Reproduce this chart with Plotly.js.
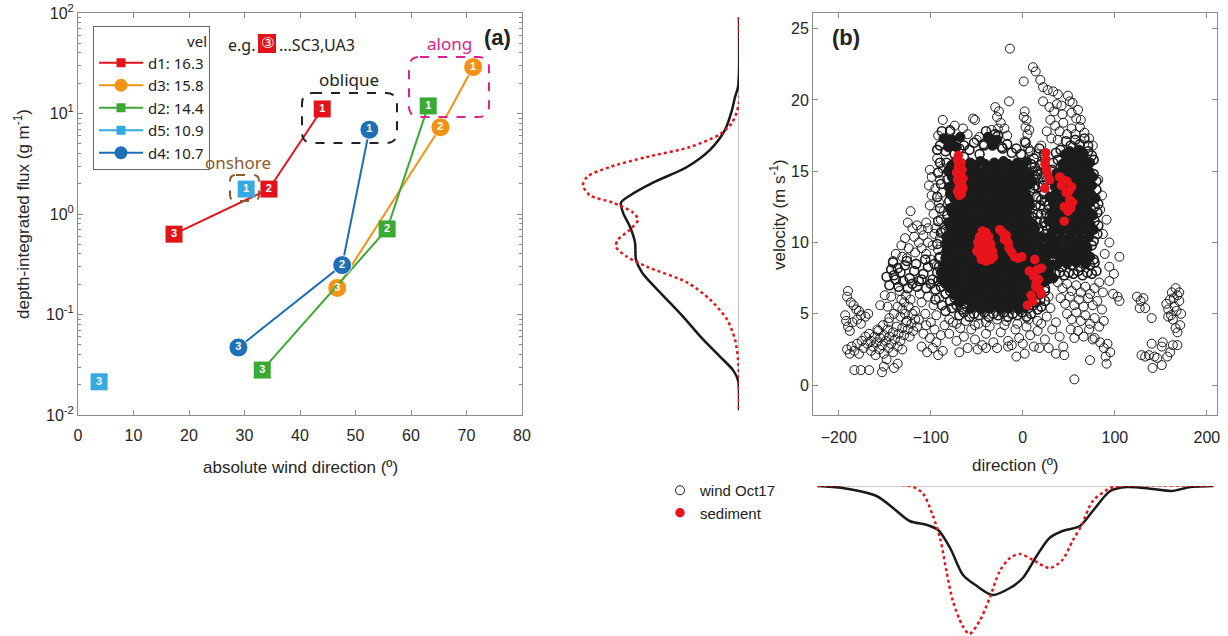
<!DOCTYPE html>
<html><head><meta charset="utf-8">
<script src="https://cdn.plot.ly/plotly-3.0.1.min.js"></script>
<style>html,body{margin:0;padding:0;background:#fff;}#chart{width:1228px;height:636px;}</style>
</head><body><div id="chart"></div>
<script>
// ---------- Panel (a) data ----------
const pointLabels = ['1','2','3'];
const dirD1 = [44.0, 34.4, 17.3];  const fluxD1 = [11.1, 1.77, 0.63];
const dirD3 = [71.2, 65.3, 46.7];  const fluxD3 = [29, 7.3, 0.184];
const dirD2 = [63.1, 55.7, 33.2];  const fluxD2 = [11.9, 0.71, 0.028];
const dirD5 = [30.3, null, 3.8];   const fluxD5 = [1.77, null, 0.0214];
const dirD4 = [52.5, 47.6, 28.9];  const fluxD4 = [6.9, 0.31, 0.047];
const legendNames = ['d1: 16.3','d3: 15.8','d2: 14.4','d5: 10.9','d4: 10.7'];
const fluxTickVals = [0.01,0.1,1,10,100];
const fluxTickText = ['10<sup>-2</sup>','10<sup>-1</sup>','10<sup>0</sup>','10<sup>1</sup>','10<sup>2</sup>'];
const fluxMinorVals = [0.02,0.03,0.04,0.05,0.06,0.07,0.08,0.09,0.2,0.3,0.4,0.5,0.6,0.7,0.8,0.9,2,3,4,5,6,7,8,9,20,30,40,50,60,70,80,90];

// ---------- Panel (b) data: [direction, velocity] ----------
// densest part of the wind cloud (overlapping circles read as solid black)
const windCore = [
[-78,15.4],[-73,15.7],[-67,15.5],[-62,15.3],[-57,15.6],[-52,15.4],[-46,15.7],[-41,15.5],[-36,15.3],[-31,15.6],[-26,15.4],[-21,15.7],[-16,15.5],[-11,15.3],[-6,15.6],[-1,15.4],[4,15.7],
[-81,15.0],[-76,14.8],[-71,15.1],[-65,14.9],[-60,15.1],[-55,14.8],[-49,15.0],[-44,14.9],[-39,15.1],[-34,14.8],[-29,15.0],[-24,14.9],[-19,15.1],[-14,14.8],[-9,15.0],[-4,14.9],[1,15.1],[6,14.8],
[-77,14.6],[-72,14.3],[-66,14.5],[-61,14.4],[-56,14.6],[-51,14.3],[-45,14.5],[-40,14.4],[-35,14.6],[-30,14.3],[-25,14.5],[-20,14.4],[-15,14.6],[-10,14.3],[-5,14.5],[0,14.4],[5,14.6],[10,14.3],
[-80,13.9],[-75,14.1],[-70,13.8],[-64,14.0],[-59,13.9],[-54,14.1],[-48,13.8],[-43,14.0],[-38,13.9],[-33,14.1],[-28,13.8],[-23,14.0],[-18,13.9],[-13,14.1],[-8,13.8],[-3,14.0],[2,13.9],[7,14.1],
[-79,13.4],[-74,13.6],[-69,13.3],[-63,13.5],[-58,13.4],[-52,13.6],[-47,13.3],[-42,13.5],[-37,13.4],[-32,13.6],[-27,13.3],[-22,13.5],[-17,13.4],[-12,13.6],[-7,13.3],[-2,13.5],[3,13.4],
[-75,13.1],[-70,12.8],[-65,13.0],[-60,12.9],[-55,13.1],[-49,12.8],[-44,13.0],[-39,12.9],[-34,13.1],[-29,12.8],[-24,13.0],[-19,12.9],[-14,13.1],[-9,12.8],[-4,13.0],[1,12.9],[6,13.1],
[-79,12.4],[-74,12.6],[-68,12.3],[-63,12.5],[-58,12.4],[-53,12.6],[-47,12.3],[-42,12.5],[-37,12.4],[-32,12.6],[-27,12.3],[-22,12.5],[-17,12.4],[-12,12.6],[-7,12.3],[-2,12.5],[3,12.4],[8,12.6],
[-77,12.1],[-72,11.8],[-66,12.0],[-61,11.9],[-56,12.1],[-50,11.8],[-45,12.0],[-40,11.9],[-35,12.1],[-30,11.8],[-25,12.0],[-20,11.9],[-15,12.1],[-10,11.8],[-5,12.0],[0,11.9],[5,12.1],
[-81,11.4],[-76,11.6],[-71,11.3],[-65,11.5],[-60,11.4],[-54,11.6],[-49,11.3],[-44,11.5],[-39,11.4],[-34,11.6],[-29,11.3],[-24,11.5],[-19,11.4],[-14,11.6],[-9,11.3],[-4,11.5],[1,11.4],[6,11.6],[11,11.3],
[-79,11.1],[-74,10.8],[-68,11.0],[-63,10.9],[-58,11.1],[-52,10.8],[-47,11.0],[-42,10.9],[-37,11.1],[-32,10.8],[-27,11.0],[-22,10.9],[-17,11.1],[-12,10.8],[-7,11.0],[-2,10.9],[3,11.1],[8,10.8],[13,11.0],
[-83,10.4],[-78,10.6],[-73,10.3],[-67,10.5],[-62,10.4],[-57,10.6],[-51,10.3],[-46,10.5],[-41,10.4],[-36,10.6],[-31,10.3],[-26,10.5],[-21,10.4],[-16,10.6],[-11,10.3],[-6,10.5],[-1,10.4],[4,10.6],[9,10.3],[14,10.5],[19,10.4],
[-84,9.9],[-79,10.1],[-74,9.8],[-69,10.0],[-64,9.9],[-58,10.1],[-53,9.8],[-48,10.0],[-43,9.9],[-38,10.1],[-33,9.8],[-28,10.0],[-23,9.9],[-18,10.1],[-13,9.8],[-8,10.0],[-3,9.9],[2,10.1],[7,9.8],[12,10.0],[17,9.9],
[-83,9.4],[-78,9.6],[-73,9.3],[-67,9.5],[-62,9.4],[-57,9.6],[-51,9.3],[-46,9.5],[-41,9.4],[-36,9.6],[-31,9.3],[-26,9.5],[-21,9.4],[-16,9.6],[-11,9.3],[-6,9.5],[-1,9.4],[4,9.6],[9,9.3],[14,9.5],[19,9.4],
[-84,8.9],[-79,9.1],[-74,8.8],[-69,9.0],[-63,8.9],[-58,9.1],[-53,8.8],[-48,9.0],[-42,8.9],[-37,9.1],[-32,8.8],[-27,9.0],[-22,8.9],[-17,9.1],[-12,8.8],[-7,9.0],[-2,8.9],[3,9.1],[8,8.8],[13,9.0],[18,8.9],[23,9.1],
[-86,8.4],[-81,8.6],[-76,8.3],[-71,8.5],[-66,8.4],[-60,8.6],[-55,8.3],[-50,8.5],[-45,8.4],[-40,8.6],[-34,8.3],[-29,8.5],[-24,8.4],[-19,8.6],[-14,8.3],[-9,8.5],[-4,8.4],[1,8.6],[6,8.3],[11,8.5],[16,8.4],[21,8.6],
[-89,7.9],[-84,8.1],[-79,7.8],[-74,8.0],[-69,7.9],[-63,8.1],[-58,7.8],[-53,8.0],[-48,7.9],[-43,8.1],[-37,7.8],[-32,8.0],[-27,7.9],[-22,8.1],[-17,7.8],[-12,8.0],[-7,7.9],[-2,8.1],[3,7.8],[8,8.0],[13,7.9],[18,8.1],[23,7.8],
[-88,7.4],[-83,7.6],[-78,7.3],[-72,7.5],[-67,7.4],[-62,7.6],[-56,7.3],[-51,7.5],[-46,7.4],[-41,7.6],[-35,7.3],[-30,7.5],[-25,7.4],[-20,7.6],[-15,7.3],[-10,7.5],[-5,7.4],[0,7.6],[5,7.3],[10,7.5],[15,7.4],[20,7.6],[25,7.3],
[-84,7.1],[-79,6.8],[-73,7.0],[-68,6.9],[-63,7.1],[-57,6.8],[-52,7.0],[-47,6.9],[-42,7.1],[-36,6.8],[-31,7.0],[-26,6.9],[-21,7.1],[-16,6.8],[-11,7.0],[-6,6.9],[-1,7.1],[4,6.8],[9,7.0],[14,6.9],[19,7.1],
[-74,6.3],[-68,6.5],[-63,6.4],[-58,6.6],[-52,6.3],[-47,6.5],[-42,6.4],[-37,6.6],[-31,6.3],[-26,6.5],[-21,6.4],[-16,6.6],[-11,6.3],[-6,6.5],[-1,6.4],[4,6.6],[9,6.3],[14,6.5],
[-69,5.8],[-63,6.0],[-58,5.9],[-53,6.1],[-47,5.8],[-42,6.0],[-37,5.9],[-32,6.1],[-26,5.8],[-21,6.0],[-16,5.9],[-11,6.1],[-6,5.8],[-1,6.0],[4,5.9],[9,6.1],
[-56,5.4],[-50,5.6],[-45,5.3],[-40,5.5],[-35,5.4],[-29,5.6],[-24,5.3],[-19,5.5],[-14,5.4],[-9,5.6],[-4,5.3],[1,5.5],
[-86,17.3],[-77,17.2],[-68,17.4],[-81,16.7],[-72,16.7],[-38,17.4],[-28,17.2],[-33,16.8],
[26,9.6],[29,9.2],[25,8.7],[31,8.4],[28,7.9],[33,7.5],[27,10.3],[30,10.0],
[46,16.2],[51,16.4],[56,16.1],[61,16.5],[66,16.2],
[43,15.5],[48,15.7],[53,15.6],[58,15.8],[63,15.5],[68,15.7],[73,15.6],
[37,14.9],[42,15.0],[47,15.2],[52,14.9],[57,15.1],[62,14.9],[67,15.2],[72,15.0],
[36,14.6],[41,14.3],[46,14.5],[51,14.4],[56,14.6],[61,14.3],[66,14.5],[71,14.4],[76,14.6],
[35,13.9],[40,13.7],[45,13.9],[50,13.8],[55,14.0],[60,13.7],[65,13.9],[70,13.8],[75,14.0],
[29,13.2],[34,13.3],[39,13.1],[44,13.3],[49,13.2],[54,13.4],[59,13.1],[64,13.3],[69,13.2],[74,13.4],[79,13.1],
[33,12.7],[38,12.5],[43,12.7],[48,12.6],[53,12.8],[58,12.5],[63,12.7],[68,12.6],[73,12.8],
[31,12.1],[36,11.9],[41,12.1],[46,12.0],[51,12.2],[56,11.9],[61,12.1],[66,12.0],[71,12.2],[76,11.9],
[28,11.5],[33,11.3],[38,11.5],[43,11.4],[48,11.6],[53,11.3],[58,11.5],[63,11.4],[68,11.6],[73,11.3],
[32,10.7],[37,10.9],[42,10.8],[47,11.0],[52,10.7],[57,10.9],[62,10.8],[67,11.0],[72,10.7],[77,10.9],
[32,10.3],[37,10.1],[42,10.3],[47,10.2],[52,10.4],[57,10.1],[62,10.3],[67,10.2],[72,10.4],
[35,9.7],[40,9.5],[45,9.7],[50,9.6],[55,9.8],[60,9.5],[65,9.7],[70,9.6],
[38,9.1],[43,8.9],[48,9.1],[53,9.0],[58,9.2],[63,8.9],[68,9.1],[73,9.0],
[38,8.5],[48,8.5],[58,8.6],[68,8.5]
];
// dense-but-textured parts (edges of the dense cloud)
const windMid = [
[-84,16.4],[-79,16.9],[-74,16.2],[-69,16.6],[-64,16.0],[-58,16.5],[-53,17.0],[-47,16.2],[-42,16.8],[-37,17.3],[-32,16.9],[-27,17.5],[-22,16.6],[-17,16.9],[-12,16.3],[-7,16.6],[-2,16.2],[3,17.0],[8,16.4],
[-83,15.6],[-82,14.4],[-80,12.9],[-82,11.9],[-84,10.9],[9,15.5],[13,15.3],[11,15.0],[14,14.6],[12,13.8],[8,13.6],[10,11.8],[15,11.5],[22,10.1],[24,9.6],[28,8.8],[26,8.3],[28,8.0],[30,7.5],[24,6.8],[24,6.6],[19,6.4],[19,6.0],[24,5.9],[14,5.8],[11,5.6],[16,5.3],[20,5.5],[6,5.4],[-61,5.5],[-66,5.3],[-79,6.6],[-74,6.1],[-89,6.9],
[-69,4.9],[-64,5.1],[-58,4.8],[-53,5.0],[-48,4.9],[-42,5.1],[-37,4.8],[-32,5.0],[-27,4.9],[-21,5.1],[-16,4.8],[-11,5.0],[-6,4.9],[-1,5.1],[4,4.8],[9,5.0],[-77,5.4],[-72,5.6],[-79,5.9],[-84,6.4],
[-90,16.8],[-64,16.8],[-88,17.8],[-79,17.8],[-43,16.9],[-23,16.7],[-40,17.8],[-30,17.6],
[-92,7.3],[-95,6.0],[-88,5.6],[-84,5.2],[-91,8.3],
[14,12.6],[13,14.0],[16,14.8],[12,15.9],[17,11.0],[18,10.3],
[47,17.1],[52,16.8],[57,17.2],[62,16.9],[67,17.3],[71,16.8],[36,16.3],[41,16.5],[71,16.4],[75,16.1],[33,15.6],[38,15.8],[77,15.8],[32,15.1],[77,14.8],[31,14.4],[80,14.3],[30,13.8],[80,13.7],[28,12.6],[78,12.5],[82,12.7],[26,12.0],[81,12.1],[23,11.4],[78,11.5],[82,11.2],[22,10.8],[27,10.9],[81,10.6],[27,10.2],[77,10.1],[30,9.6],[75,9.8],[33,9.0],[77,8.8],
[33,8.4],[43,8.3],[53,8.4],[63,8.3],[73,8.4],[78,8.6],
[35,7.8],[40,7.9],[45,7.7],[50,7.9],[55,7.8],[60,8.0],[65,7.7],[70,7.9],[75,7.8],[80,8.0],
[-148,7.6],[-143,8.1],[-138,7.4],[-133,7.9],[-128,8.4],[-123,7.5],[-118,8.0],[-113,7.3],[-108,7.8],[-103,8.3],[-98,7.4],[-93,7.9],
[-145,7.0],[-140,7.7],[-135,6.9],[-130,7.3],[-125,6.8],[-120,7.1],[-115,6.9],[-110,7.4],[-105,6.8],[-100,7.1],[-95,6.7],
[-141,8.6],[-136,8.2],[-126,8.7],[-116,8.5],[-106,8.8],[-96,8.5],[-91,8.9],
[16,12.0],[19,12.6],[23,13.4],[17,13.9],[21,14.6],[16,15.0],[20,15.5],[23,16.2],[18,16.6],[15,13.2],[24,12.9],[20,12.0],[22,14.0],[26,14.4],[25,11.2],[20,13.0],
[-93,16.5],[-90,15.6],[-92,14.9],[-89,14.1],[-93,13.2],[-90,12.4],[-92,11.5],[-89,10.7],[-93,9.9],[-90,9.0]
];
const windSparse = [
[-190,6.6],[-191,6.2],[-187,5.8],[-184,5.6],[-181,5.3],[-178,5.2],[-176,4.9],[-193,4.9],[-192,4.5],[-190,4.1],[-188,3.8],[-185,4.4],[-180,4.6],[-176,4.3],[-171,4.8],[-168,5.0],
[-191,2.5],[-188,2.2],[-186,2.7],[-183,2.4],[-180,2.9],[-178,2.2],[-175,3.1],[-173,2.6],[-171,3.4],[-169,2.9],[-167,3.6],[-165,3.1],[-163,2.7],[-161,3.4],[-159,3.0],[-157,3.8],[-155,3.3],[-153,2.8],[-151,3.5],[-149,3.1],[-147,3.9],[-145,3.4],[-143,2.9],[-141,3.7],[-139,3.2],[-137,4.1],[-135,3.6],[-133,3.1],[-131,4.0],[-129,3.5],[-127,4.4],[-125,3.9],[-123,3.4],[-121,4.3],[-119,3.8],[-117,4.6],[-165,2.4],[-160,2.1],[-156,2.5],[-151,2.2],[-146,2.6],[-141,2.3],[-136,2.7],[-131,2.5],[-158,3.9],[-152,4.2],[-146,4.4],
[-183,1.05],[-176,1.05],[-167,1.05],[-153,0.9],[-151,1.3],[-140,1.2],[-136,1.5],[-148,1.8],
[-133,4.8],[-131,5.3],[-129,5.8],[-127,6.3],[-132,6.0],[-128,5.0],[-126,4.5],[-124,5.5],[-122,6.0],[-136,5.5],[-134,6.6],[-120,5.0],
[-117,5.2],[-113,4.6],[-110,5.8],[-106,5.0],[-103,6.2],[-100,4.4],[-97,5.6],[-94,4.9],[-91,6.1],[-112,6.4],[-105,4.2],[-96,3.9],[-115,4.1],[-108,3.6],[-101,3.3],[-94,3.0],[-89,3.5],[-110,2.7],[-104,2.3],[-98,2.6],[-92,2.1],[-87,2.4],
[-147,5.5],[-143,6.2],[-140,5.0],[-150,6.3],[-155,5.6],[-145,4.7],
[-122,12.2],[-125,11.4],[-120,11.0],[-115,11.2],[-110,10.9],[-118,10.4],[-113,10.0],[-108,10.5],[-128,10.3],[-132,9.8],[-124,9.6],[-117,9.3],[-110,9.6],[-103,10.0],[-138,9.2],[-131,9.0],[-126,8.9],[-105,11.4],[-101,12.6],[-99,13.3],[-102,14.0],[-99,14.6],[-101,15.1],[-97,12.0],[-95,13.8],[-95,11.0],[-141,8.7],
[-92,9.5],[-90,10.3],[-89,11.6],[-91,12.8],[-88,13.5],[-90,14.4],[-87,15.2],[-93,15.9],[-86,12.2],[-88,10.8],
[-105,9.2],[-98,9.8],[-100,8.8],[-96,10.6],[-103,11.0],
[-87,18.6],[-54,18.7],[-74,18.2],[-65,18.0],[-79,17.9],[-92,17.5],[-60,17.6],
[-52,18.6],[-30,19.5],[-26,19.2],[-28,18.8],[-24,18.4],[-27,18.0],[-15,19.9],[-47,17.4],[-50,17.2],[-34,17.9],[-20,18.0],[-17,17.5],
[2,19.2],[4,18.6],[3,18.1],[5,17.6],[2,17.1],[6,16.6],[1,18.8],[7,17.9],
[-14,23.6],[11,22.3],[14,22.0],[1,21.3],[19,21.4],[22,20.9],[27,20.7],[33,20.6],[38,20.4],[49,20.3],[51,19.9],[54,19.8],[22,19.9],[29,19.5],[37,19.7],[42,19.6],[34,19.2],[43,19.0],[53,19.1],[58,18.7],[60,19.3],[63,18.6],
[30,18.6],[35,18.2],[40,17.8],[44,18.4],[48,17.6],[53,18.0],[57,17.6],[62,18.1],[67,17.7],[72,17.3],[26,17.8],[31,17.3],[38,17.2],[76,16.8],
[17,13.1],[21,14.2],[18,15.4],[22,12.3],[15,16.2],[20,16.8],[24,15.9],
[38,7.2],[43,6.8],[48,7.1],[53,6.6],[58,7.0],[63,6.5],[68,6.9],[73,6.4],[78,6.8],[83,7.2],[87,6.5],[41,6.1],[46,5.7],[51,6.2],[56,5.6],[61,6.0],[66,5.5],[71,6.1],[76,5.6],[81,5.9],[86,5.3],[48,5.0],[53,4.6],[58,5.1],[63,4.5],[68,4.9],[73,4.3],[78,4.7],[83,4.1],[88,4.5],[60,3.8],[66,3.4],[72,3.9],[78,3.3],[84,3.0],[88,2.6],[92,2.9],[95,2.3],[90,2.0],[56,3.3],[52,3.9],[76,3.2],
[82,14.4],[86,13.3],[84,12.3],[91,11.6],[87,10.6],[94,10.0],[105,9.0],[94,8.3],[99,7.8],[94,7.3],[103,6.2],[105,5.9],[98,6.4],[89,9.2],
[124,6.2],[128,5.9],[131,6.1],[127,5.4],[133,5.4],[140,4.7],[129,2.1],[133,2.0],[137,2.1],[143,2.0],[146,1.9],[140,2.9],[151,2.7],[152,3.0],[141,1.2],[151,1.4],[157,2.0],[163,2.8],[168,2.8],[160,2.3],
[156,5.7],[158,5.3],[160,6.0],[162,6.5],[164,6.1],[166,6.8],[168,6.3],[170,5.9],[165,5.5],[161,4.9],[163,4.6],[167,5.2],[170,6.5],[172,5.0],[166,4.0],[168,3.7],[158,4.8],[171,4.2],
[-85,4.2],[-80,3.6],[-76,4.4],[-72,3.1],[-68,4.0],[-64,3.4],[-60,2.6],[-56,3.9],[-52,3.2],[-48,4.3],[-44,2.8],[-40,3.6],[-36,4.1],[-32,3.0],[-28,2.6],[-24,3.7],[-20,4.2],[-16,3.1],[-12,2.8],[-8,3.9],[-4,3.3],[0,2.9],[4,4.1],[8,3.5],[12,2.7],[16,3.8],[20,4.3],[24,3.2],[28,2.6],[32,3.9],[36,4.4],[40,3.4],[44,2.7],
[-7,2.0],[2,2.2],[18,2.6],[36,2.2],[45,2.1],[-69,2.3],[-49,2.5],[-40,2.6],[-16,2.7],[56,0.4],[73,1.75],[91,1.5],
[-80,4.6],[-72,4.3],[-62,4.5],[-52,4.2],[-40,4.4],[-28,4.6],[-18,4.5],[-6,4.3],[6,4.6],[16,4.5],[26,4.8],[30,5.4],[28,6.2]
];
const sedimentPts = [
[-70,16.1],[-71,15.8],[-67,15.6],[-70,15.3],[-66,15.1],[-72,14.9],[-68,14.7],[-65,14.5],[-71,14.4],[-67,14.2],[-69,13.9],[-65,13.8],[-71,13.6],[-67,13.4],[-69,13.3],[-66,14.0],[-70,15.0],[-68,15.5],
[-44,10.8],[-40,10.7],[-47,10.4],[-42,10.3],[-37,10.4],[-49,10.0],[-45,9.9],[-40,10.0],[-35,9.9],[-48,9.6],[-43,9.5],[-38,9.6],[-33,9.4],[-47,9.2],[-42,9.1],[-37,9.2],[-45,8.8],[-40,8.7],[-35,8.8],[-50,9.4],[-32,9.0],
[-25,10.9],[-22,10.7],[-18,10.5],[-16,10.0],[-15,9.6],[-12,9.3],[-9,9.0],[-5,8.9],[-1,9.0],[-20,10.2],
[13,8.8],[7,8.0],[16,8.1],[20,8.2],[14.5,7.1],[18,6.7],[20,6.4],[9,6.3],[5,5.6],[11,5.9],[14,6.9],[12,7.6],[17,7.4],
[25,16.3],[24,15.5],[26,15.1],[27,14.8],[29,14.4],[24,13.8],[25,15.8],
[40,14.6],[43.5,14.4],[48,14.3],[53,13.9],[47,13.5],[51,13.0],[54,12.8],[45,12.5],[49,12.2],[45,11.5],[42,14.0],[50,13.6],[52,12.4]
];

// marginal densities (relative units)
const velDensWindV = [25.8,22,20.9,20.2,19.3,17.9,16.5,15.3,14.2,13.3,12.8,12.1,11.1,10.0,8.8,7.9,6.5,4.8,3.2,2.0,1.05,0.35,-0.5,-1.76];
const velDensWindD = [0,0,1,4,7,14,29,52,86,109,118,116,109,104,103,97,79,56,36,19,6,1,0,0];
const velDensSedV = [25.8,19.8,18.4,17.6,16.7,16.0,15.3,14.6,14.0,13.3,12.8,12.1,11.6,10.9,10.2,9.7,9.0,8.3,7.2,6.0,4.6,3.2,1.8,0.5,-1.76];
const velDensSedD = [0,0,7,19,49,92,129,152,156,149,126,106,101,109,121,123,112,92,52,29,12,4,1,0,0];
const dirDensWindX = [-223,-196,-159,-141,-123,-104,-92,-79,-65,-50,-33,-14,0,15,29,43,62,76,95,113,141,162,182,207];
const dirDensWindD = [0,2,10,22,35,39,44,62,89,100,109,102,92,70,52,45,40,25,5,1,3,5,1,0];
const dirDensSedX = [-223,-123,-109,-98,-90,-83,-76,-66,-58,-47,-36,-25,-14,-3,11,29,43,54,64,76,95,104,207];
const dirDensSedD = [0,0,7,29,52,85,115,139,148,135,112,85,72,68,74,82,74,55,39,15,2,0,0];

// ---------- layout helpers ----------
const W = 1228, H = 636;
const px = x => x / W;
const py = y => 1 - y / H;
function roundRect(x0, y0, x1, y1, r) {
  const P = (x, y) => px(x).toFixed(5) + ',' + py(y).toFixed(5);
  return 'M' + P(x0 + r, y0) + ' L' + P(x1 - r, y0) + ' Q' + P(x1, y0) + ' ' + P(x1, y0 + r) +
    ' L' + P(x1, y1 - r) + ' Q' + P(x1, y1) + ' ' + P(x1 - r, y1) +
    ' L' + P(x0 + r, y1) + ' Q' + P(x0, y1) + ' ' + P(x0, y1 - r) +
    ' L' + P(x0, y0 + r) + ' Q' + P(x0, y0) + ' ' + P(x0 + r, y0) + ' Z';
}

const AX = 'Liberation Sans, Arial, sans-serif';
const HU = 'Noto Sans, sans-serif';
const colD = {d1:'#e3131b', d3:'#f39314', d2:'#3aaa35', d5:'#36a9e1', d4:'#1d6fb8'};
const symD = ['square','circle','square','square','circle'];
const colList = [colD.d1, colD.d3, colD.d2, colD.d5, colD.d4];
const INK = '#1c1c1c';

function seriesTrace(xs, ys, color, symbol, size) {
  return {x: xs, y: ys, type: 'scatter', mode: 'lines+markers', xaxis: 'x', yaxis: 'y', showlegend: false,
    line: {color: color, width: 2}, connectgaps: false,
    marker: {color: color, symbol: symbol, size: size, line: {color: symbol === 'circle' ? '#ffffff' : color, width: symbol === 'circle' ? 1 : 0}},
    hoverinfo: 'skip'};
}
function legendEntry(i) {
  return {x: [null], y: [null], type: 'scatter', mode: 'lines+markers', xaxis: 'x', yaxis: 'y', name: legendNames[i],
    legend: 'legend', line: {color: colList[i], width: 2},
    marker: {color: colList[i], symbol: symD[i], size: symD[i] === 'circle' ? 13 : 9}, hoverinfo: 'skip'};
}
function labelTrace(xs, ys) {
  return {x: xs, y: ys, type: 'scatter', mode: 'text', xaxis: 'x', yaxis: 'y', showlegend: false,
    text: pointLabels.map(t => '<b>' + t + '</b>'), textposition: 'middle center',
    textfont: {color: '#ffffff', size: 11, family: AX}, hoverinfo: 'skip', cliponaxis: false};
}
function windTrace(pts, marker, extra) {
  return Object.assign({x: pts.map(p => p[0]), y: pts.map(p => p[1]), type: 'scatter', mode: 'markers',
    xaxis: 'x2', yaxis: 'y2', showlegend: false, marker: marker, hoverinfo: 'skip'}, extra || {});
}

const traces = [
  legendEntry(0), legendEntry(1), legendEntry(2), legendEntry(3), legendEntry(4),
  seriesTrace(dirD1, fluxD1, colD.d1, 'square', 17),
  seriesTrace(dirD3, fluxD3, colD.d3, 'circle', 19),
  seriesTrace(dirD2, fluxD2, colD.d2, 'square', 17),
  seriesTrace(dirD5, fluxD5, colD.d5, 'square', 17),
  seriesTrace(dirD4, fluxD4, colD.d4, 'circle', 19),
  labelTrace(dirD1, fluxD1), labelTrace(dirD3, fluxD3), labelTrace(dirD2, fluxD2),
  labelTrace(dirD5, fluxD5), labelTrace(dirD4, fluxD4),
  // panel (b) scatter
  windTrace(windCore, {symbol: 'circle', size: 9.5, color: INK, line: {color: INK, width: 1}}),
  windTrace(windMid, {symbol: 'circle-open', size: 9, color: INK, line: {width: 1.6}}),
  windTrace(windSparse, {symbol: 'circle-open', size: 9, color: INK, line: {width: 1}}, {name: 'wind Oct17', legend: 'legend2', showlegend: true}),
  windTrace(sedimentPts, {symbol: 'circle', size: 9.5, color: '#e8141c'}, {name: 'sediment', legend: 'legend2', showlegend: true}),
  // marginal density of velocity (left)
  {x: velDensWindD, y: velDensWindV, type: 'scatter', mode: 'lines', xaxis: 'x3', yaxis: 'y2', showlegend: false,
   line: {color: '#1a1a1a', width: 2.5, shape: 'spline', smoothing: 0.8}, hoverinfo: 'skip'},
  {x: velDensSedD, y: velDensSedV, type: 'scatter', mode: 'lines', xaxis: 'x3', yaxis: 'y2', showlegend: false,
   line: {color: '#e8141c', width: 2.5, dash: 'dot', shape: 'spline', smoothing: 0.8}, hoverinfo: 'skip'},
  // marginal density of direction (bottom)
  {x: dirDensWindX, y: dirDensWindD, type: 'scatter', mode: 'lines', xaxis: 'x2', yaxis: 'y4', showlegend: false,
   line: {color: '#1a1a1a', width: 2.5, shape: 'spline', smoothing: 0.8}, hoverinfo: 'skip'},
  {x: dirDensSedX, y: dirDensSedD, type: 'scatter', mode: 'lines', xaxis: 'x2', yaxis: 'y4', showlegend: false,
   line: {color: '#e8141c', width: 2.5, dash: 'dot', shape: 'spline', smoothing: 0.8}, hoverinfo: 'skip'}
];

const tickFont = {family: AX, size: 16, color: '#262626'};
const frame = {showline: true, linecolor: '#8c8c8c', linewidth: 1, mirror: 'ticks', ticks: 'inside',
  ticklen: 5, tickcolor: '#8c8c8c', showgrid: false, zeroline: false, tickfont: tickFont};

function ann(text, x, y, font, extra) {
  return Object.assign({text: text, x: px(x), y: py(y), xref: 'paper', yref: 'paper', showarrow: false,
    xanchor: 'center', yanchor: 'middle', font: font}, extra || {});
}

const layout = {
  width: W, height: H, autosize: false,
  margin: {l: 0, r: 0, t: 0, b: 0, pad: 0},
  paper_bgcolor: '#ffffff', plot_bgcolor: 'rgba(0,0,0,0)',
  showlegend: true,
  xaxis: Object.assign({}, frame, {domain: [px(78), px(522)], range: [0, 80], tick0: 0, dtick: 10, anchor: 'y', ticklabelstandoff: 6}),
  yaxis: Object.assign({}, frame, {domain: [py(415), py(13)], type: 'log', range: [-2, 2], tickvals: fluxTickVals, ticktext: fluxTickText,
    anchor: 'x', minor: {tickvals: fluxMinorVals, ticks: 'inside', ticklen: 3, tickcolor: '#8c8c8c', showgrid: false}}),
  xaxis2: Object.assign({}, frame, {domain: [px(813), px(1217)], range: [-228, 211], tickvals: [-200,-100,0,100,200], anchor: 'y2', ticklabelstandoff: 8}),
  yaxis2: Object.assign({}, frame, {domain: [py(415), py(13)], range: [-2.1, 26.1], tick0: 0, dtick: 5, anchor: 'x2'}),
  xaxis3: {domain: [px(579), px(739)], range: [160, 0], anchor: 'y2', visible: false, fixedrange: true},
  yaxis4: {domain: [0, py(486)], range: [150, 0], anchor: 'x2', visible: false, fixedrange: true},
  legend: {x: px(93), y: py(26), xanchor: 'left', yanchor: 'top', bgcolor: '#ffffff', bordercolor: '#666666', borderwidth: 1,
    font: {family: HU, size: 15, color: '#222'}, title: {text: 'vel', side: 'top right', font: {family: HU, size: 15, color: '#222'}},
    traceorder: 'normal', itemwidth: 44, tracegroupgap: 0},
  legend2: {x: px(660), y: py(474), xanchor: 'left', yanchor: 'top', bgcolor: 'rgba(0,0,0,0)', borderwidth: 0,
    font: {family: AX, size: 15, color: '#222'}, itemwidth: 30, tracegroupgap: 0},
  shapes: [
    {type: 'line', xref: 'x3', yref: 'y2', x0: 0, x1: 0, y0: -1.76, y1: 25.8, line: {color: '#9a9a9a', width: 1.2}, layer: 'below'},
    {type: 'line', xref: 'x2', yref: 'y4', x0: -223, x1: 207, y0: 0, y1: 0, line: {color: '#9a9a9a', width: 1.2}, layer: 'below'},
    {type: 'path', xref: 'paper', yref: 'paper', path: roundRect(302, 93, 397, 143, 11), line: {color: '#222222', width: 2, dash: 'dash'}},
    {type: 'path', xref: 'paper', yref: 'paper', path: roundRect(409, 57, 489, 117, 11), line: {color: '#e0218a', width: 2, dash: 'dash'}},
    {type: 'path', xref: 'paper', yref: 'paper', path: roundRect(230, 175, 259, 201, 6), line: {color: '#8c5a2e', width: 2, dash: 'dash'}},
    {type: 'rect', xref: 'paper', yref: 'paper', x0: px(258), x1: px(276), y0: py(53), y1: py(34), fillcolor: '#e3131b', line: {width: 0}}
  ],
  annotations: [
    ann('<b>(a)</b>', 497, 38, {family: AX, size: 22, color: '#222'}),
    ann('<b>(b)</b>', 846, 38, {family: AX, size: 22, color: '#222'}),
    ann('e.g.', 257, 45, {family: HU, size: 16, color: '#222'}, {xanchor: 'right'}),
    ann('③', 267, 43, {family: 'DejaVu Sans, Noto Sans CJK SC', size: 15, color: '#ffffff'}),
    ann('...SC3,UA3', 277, 45, {family: HU, size: 16, color: '#222'}, {xanchor: 'left'}),
    ann('oblique', 349, 80, {family: HU, size: 17, color: '#222'}),
    ann('along', 449, 43, {family: HU, size: 17, color: '#e0218a'}),
    ann('onshore', 238, 162, {family: HU, size: 17, color: '#8c5a2e'}),
    ann('depth-integrated flux (g m<sup>-1</sup>)', 22, 214, {family: AX, size: 17, color: '#262626'}, {textangle: -90}),
    ann('absolute wind direction (º)', 300, 467, {family: AX, size: 17, color: '#262626'}),
    ann('velocity (m s<sup>-1</sup>)', 778, 214, {family: AX, size: 17, color: '#262626'}, {textangle: -90}),
    ann('direction (º)', 1015, 465, {family: AX, size: 17, color: '#262626'})
  ]
};

Plotly.newPlot('chart', traces, layout, {staticPlot: true, displayModeBar: false});
</script></body></html>
